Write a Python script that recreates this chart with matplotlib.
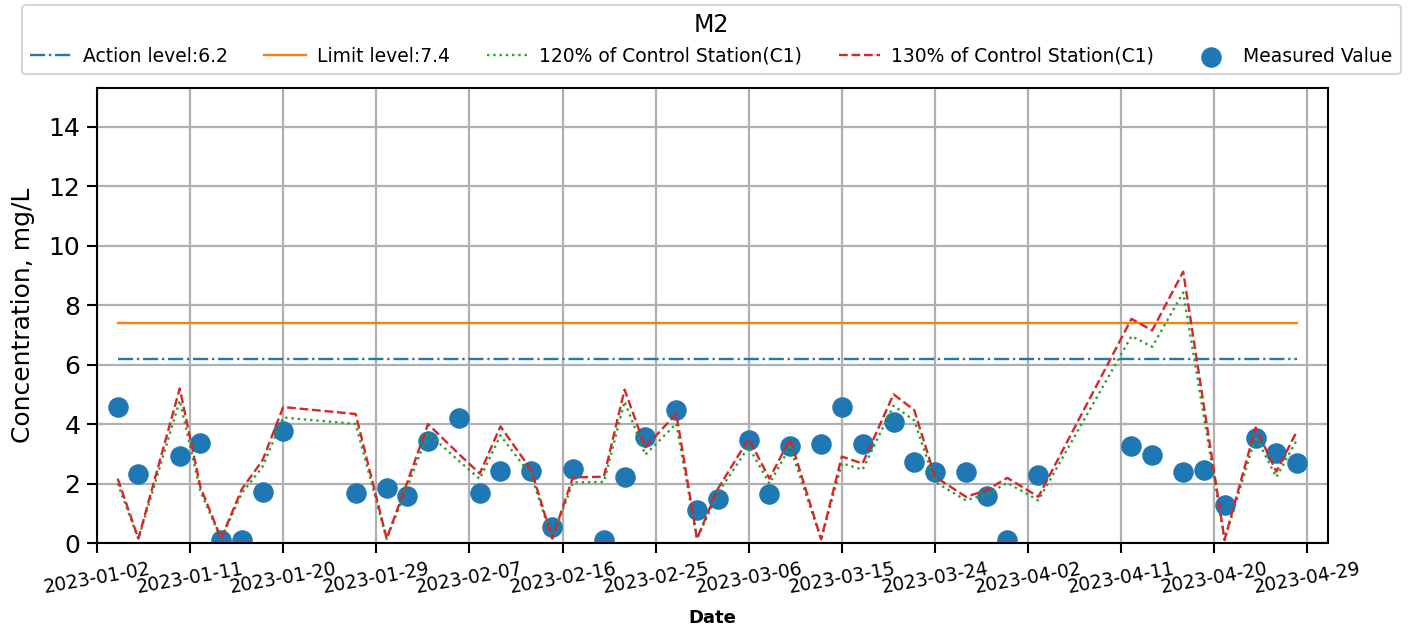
import matplotlib
matplotlib.use("Agg")
import matplotlib.pyplot as plt
import matplotlib.dates as mdates
import numpy as np
import pandas as pd

# sample dates (station M2)
dates = [
    "2023-01-04", "2023-01-06", "2023-01-10", "2023-01-12", "2023-01-14",
    "2023-01-16", "2023-01-18", "2023-01-20", "2023-01-27", "2023-01-30",
    "2023-02-01", "2023-02-03", "2023-02-06", "2023-02-08", "2023-02-10",
    "2023-02-13", "2023-02-15", "2023-02-17", "2023-02-20", "2023-02-22",
    "2023-02-24", "2023-02-27", "2023-03-01", "2023-03-03", "2023-03-06",
    "2023-03-08", "2023-03-10", "2023-03-13", "2023-03-15", "2023-03-17",
    "2023-03-20", "2023-03-22", "2023-03-24", "2023-03-27", "2023-03-29",
    "2023-03-31", "2023-04-03", "2023-04-12", "2023-04-14", "2023-04-17",
    "2023-04-19", "2023-04-21", "2023-04-24", "2023-04-26", "2023-04-28",
]

measured = [
    4.57, 2.32, 2.93, 3.37, 0.10, 0.10, 1.73, 3.77, 1.68, 1.84,
    1.57, 3.43, 4.22, 1.68, 2.44, 2.44, 0.56, 2.48, 0.10, 2.22,
    3.57, 4.47, 1.13, 1.49, 3.48, 1.64, 3.28, 3.32, 4.58, 3.33,
    4.07, 2.73, 2.39, 2.39, 1.58, 0.10, 2.28, 3.28, 2.98, 2.38,
    2.45, 1.29, 3.52, 3.03, 2.69,
]

# control station C1 readings
control_c1 = [
    1.67, 0.12, 4.00, 1.45, 0.12, 1.40, 2.14, 3.52, 3.34, 0.12,
    1.58, 3.08, 2.30, 1.80, 3.02, 1.88, 0.12, 1.70, 1.72, 3.97,
    2.48, 3.35, 0.12, 1.40, 2.70, 1.67, 2.70, 0.10, 2.24, 2.06,
    3.85, 3.44, 1.72, 1.20, 1.37, 1.69, 1.20, 5.80, 5.50, 7.02,
    3.55, 0.09, 2.99, 1.85, 2.90,
]

action_level = 6.2
limit_level = 7.4
station = "M2"

x = pd.to_datetime(dates)
c1 = np.array(control_c1)
n = len(x)

fig = plt.figure(figsize=(14.14, 6.28), dpi=100)
ax = fig.add_axes([0.0686, 0.135, 0.8706, 0.725])

h_act, = ax.plot(x, [action_level] * n, "-.", color="C0", lw=1.7, zorder=3,
                 label=f"Action level:{action_level}")
h_lim, = ax.plot(x, [limit_level] * n, "-", color="C1", lw=1.7, zorder=3,
                 label=f"Limit level:{limit_level}")
h_120, = ax.plot(x, c1 * 1.2, ":", color="C2", lw=1.7, zorder=3,
                 label="120% of Control Station(C1)")
h_130, = ax.plot(x, c1 * 1.3, "--", color="C3", lw=1.7, zorder=3,
                 label="130% of Control Station(C1)")
h_meas = ax.scatter(x, measured, s=190, color="C0", zorder=2,
                    label="Measured Value")

ax.set_xlim(pd.Timestamp("2023-01-02"), pd.Timestamp("2023-05-01"))
ax.set_ylim(0, 15.3)
ax.set_yticks(range(0, 15, 2))
ax.set_xticks(pd.date_range("2023-01-02", "2023-04-29", freq="9D"))
ax.xaxis.set_major_formatter(mdates.DateFormatter("%Y-%m-%d"))
ax.tick_params(axis="x", labelsize=13.5, rotation=10, length=7, width=1.5,
               pad=5)
ax.tick_params(axis="y", labelsize=18, length=7, width=1.5, pad=5)

ax.grid(True, color="#b0b0b0", lw=1.6)
for sp in ax.spines.values():
    sp.set_linewidth(1.5)

ax.set_xlabel("Date", fontsize=13, fontweight="bold", labelpad=8)
ax.set_ylabel("Concentration, mg/L", fontsize=18, labelpad=10)

leg = fig.legend(handles=[h_act, h_lim, h_120, h_130, h_meas],
                 loc="upper left", bbox_to_anchor=(0.0156, 0.992, 0.975, 0.0),
                 mode="expand", ncol=5, fontsize=13.5, title=station,
                 title_fontsize=17, scatterpoints=1, borderaxespad=0.0,
                 borderpad=0.45, labelspacing=0.5, handlelength=2.2,
                 handletextpad=0.6)
leg.get_frame().set_linewidth(1.5)

fig.savefig("out.png", dpi=100)
